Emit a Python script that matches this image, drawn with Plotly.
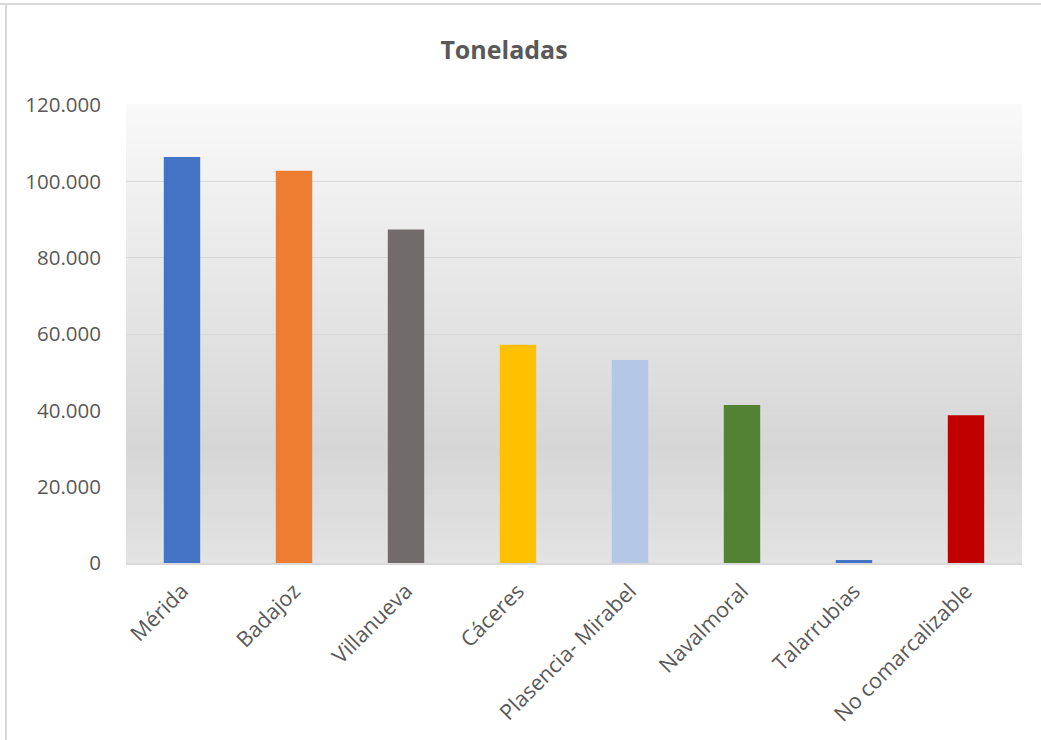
import plotly.graph_objects as go

categories = ["Mérida", "Badajoz", "Villanueva", "Cáceres", "Plasencia- Mirabel",
              "Navalmoral", "Talarrubias", "No comarcalizable"]
toneladas = [106400, 102800, 87400, 57200, 53200, 41400, 800, 38700]
bar_colors = ["#4472C4", "#ED7D31", "#716C6B", "#FFC000", "#B4C7E7",
              "#548235", "#4472C4", "#C00000"]
y_ticks = [0, 20000, 40000, 60000, 80000, 100000, 120000]

W, H = 1041, 740
L, R, T, B = 126, 19, 105, 177

fig = go.Figure()
fig.add_trace(go.Bar(
    x=categories, y=toneladas,
    marker=dict(color=bar_colors, line=dict(width=0)),
    hoverinfo="x+y",
))

# vertical gradient background for plot area
def lerp(c1, c2, t):
    return tuple(round(a + (b - a) * t) for a, b in zip(c1, c2))

stops = [(0.0, (227, 227, 227)), (0.25, (214, 214, 214)), (1.0, (249, 249, 249))]
n = 80
shapes = []
for i in range(n):
    y0 = i / n
    y1 = (i + 1) / n
    ym = (y0 + y1) / 2
    for j in range(len(stops) - 1):
        if stops[j][0] <= ym <= stops[j + 1][0]:
            t = (ym - stops[j][0]) / (stops[j + 1][0] - stops[j][0])
            c = lerp(stops[j][1], stops[j + 1][1], t)
            break
    shapes.append(dict(type="rect", xref="paper", yref="paper",
                       x0=0, x1=1, y0=y0, y1=y1 + 0.002,
                       fillcolor="rgb(%d,%d,%d)" % c, line=dict(width=0),
                       layer="below"))

pw = W - L - R
ph = H - T - B
# chart border (top and left visible)
shapes.append(dict(type="line", xref="paper", yref="paper",
                   x0=(0 - L) / pw, x1=(W - L) / pw,
                   y0=(H - B - 4) / ph, y1=(H - B - 4) / ph,
                   line=dict(color="#D9D9D9", width=2), layer="above"))
shapes.append(dict(type="line", xref="paper", yref="paper",
                   x0=(6 - L) / pw, x1=(6 - L) / pw,
                   y0=(H - B - 4) / ph, y1=(H - B - H) / ph,
                   line=dict(color="#D9D9D9", width=2), layer="above"))

fig.update_layout(
    width=W, height=H,
    margin=dict(l=L, r=R, t=T, b=B, pad=0, autoexpand=False),
    paper_bgcolor="white",
    plot_bgcolor="rgba(0,0,0,0)",
    separators=",.",
    showlegend=False,
    bargap=0.675,
    shapes=shapes,
    title=dict(text="<b>Toneladas</b>", x=(504 - L) / pw, xref="paper", xanchor="center",
               y=1 - 50 / H, yanchor="middle",
               font=dict(family="Open Sans", size=25, color="#595959")),
    font=dict(family="Open Sans", color="#595959"),
)
fig.update_yaxes(
    range=[0, 120000], tickvals=y_ticks, tickformat=",d",
    showgrid=True, gridcolor="#D9D9D9", gridwidth=1.3,
    zeroline=False, showline=False, automargin=False,
    tickfont=dict(family="Open Sans", size=20.5, color="#595959"),
    ticks="", ticklabelstandoff=24,
)
fig.update_xaxes(
    tickangle=-45, showgrid=False, zeroline=False, automargin=False,
    showline=True, linecolor="#D9D9D9", linewidth=2,
    tickfont=dict(family="Open Sans", size=21.5, color="#595959"),
    ticks="", ticklabelstandoff=5,
)

fig.write_html("out.html", config={"displayModeBar": False},
               post_script="document.body.style.margin='0';")
